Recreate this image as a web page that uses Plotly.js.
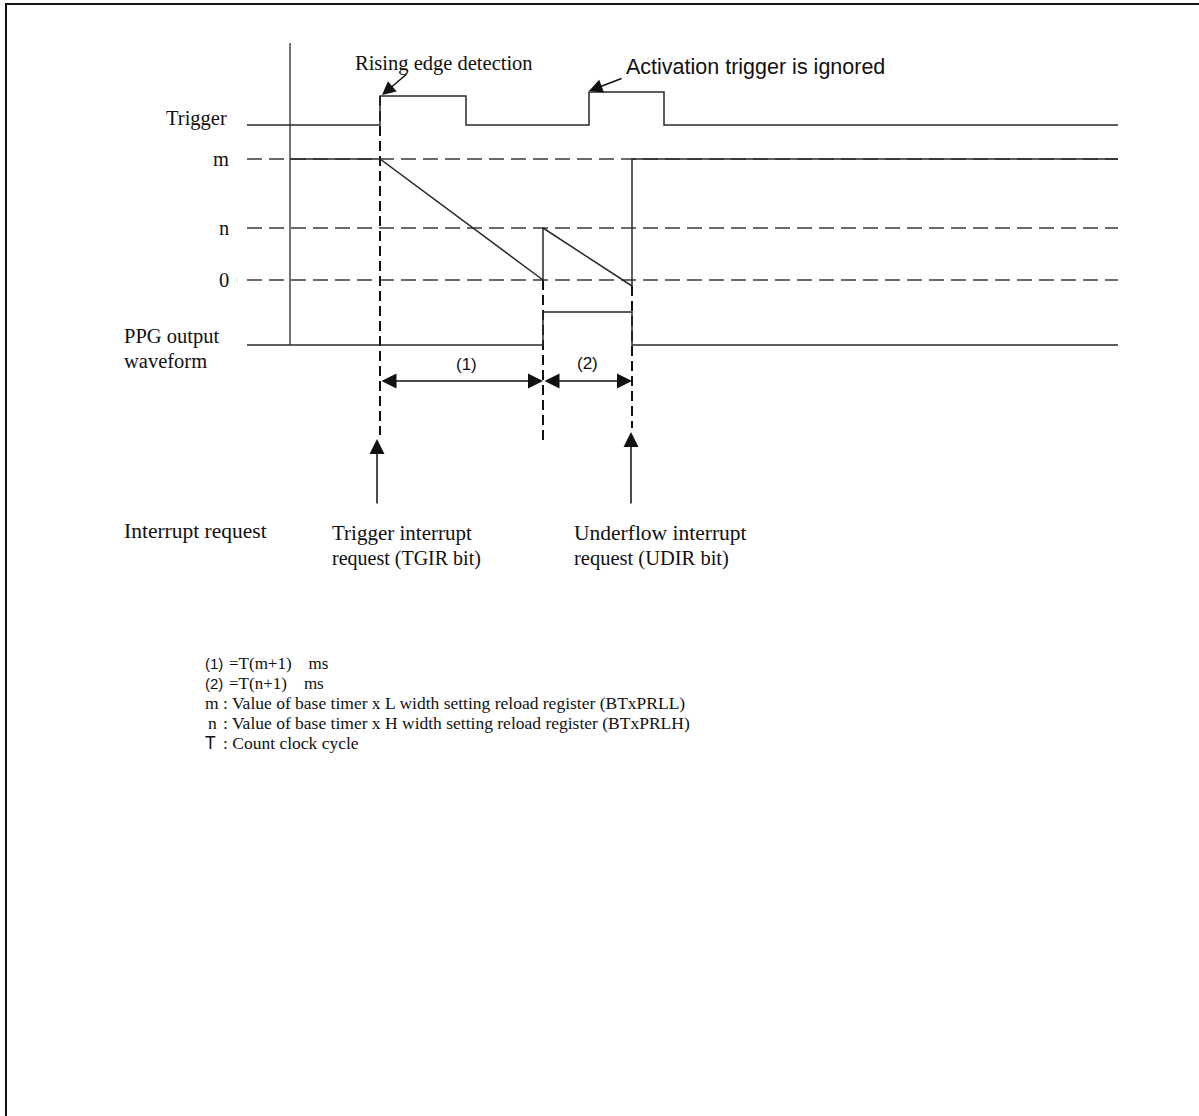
<!DOCTYPE html>
<html>
<head>
<meta charset="utf-8">
<script src="https://cdn.plot.ly/plotly-3.0.1.min.js"></script>
<style>html,body{margin:0;padding:0;background:#fff;}#chart{width:1199px;height:1116px;}</style>
</head>
<body>
<div id="chart"></div>
<script>
// ---- timing events (horizontal position, drawing units) ----
const tStart = 247;      // start of signal lines
const tAxis = 290;       // vertical reference axis
const tTrig = 380;       // rising edge of trigger
const tTrigEnd = 466;    // falling edge of trigger
const tUnder1 = 543;     // first underflow (counter reaches 0)
const tIgn = 589;        // ignored trigger rising edge
const tIgnEnd = 664;     // ignored trigger falling edge
const tUnder2 = 632;     // second underflow
const tEnd = 1118;       // end of signal lines

// ---- signal levels (vertical position, drawing units, down is larger) ----
const trigLow = 125, trigHigh1 = 96, trigHigh2 = 92;
const levelM = 159, levelN = 228, level0 = 280, levelUnder = 286;
const ppgLow = 345, ppgHigh = 312;
const axisTop = 43;

// ---- waveforms ----
const triggerX = [tStart, tTrig, tTrig, tTrigEnd, tTrigEnd, tIgn, tIgn, tIgnEnd, tIgnEnd, tEnd];
const triggerY = [trigLow, trigLow, trigHigh1, trigHigh1, trigLow, trigLow, trigHigh2, trigHigh2, trigLow, trigLow];
const counterX = [tAxis, tTrig, tUnder1, tUnder1, tUnder2, tUnder2, tEnd];
const counterY = [levelM, levelM, level0, levelN, levelUnder, levelM, levelM];
const ppgX = [tStart, tUnder1, tUnder1, tUnder2, tUnder2, tEnd];
const ppgY = [ppgLow, ppgLow, ppgHigh, ppgHigh, ppgLow, ppgLow];

// ---- reference levels (dashed) ----
const refLevels = [levelM, levelN, level0];
const refLabels = ['m', 'n', '0'];

// ---- dashed markers down to interrupt area ----
const markerX = [tTrig, tUnder1, tUnder2];
const markerTop = [trigHigh1, level0, levelUnder];
const markerBottom = [435, 443, 428];

// ---- interrupt arrows ----
const irqX = [377, 631];
const irqTip = [439, 432];
const irqTail = 505;

// ---- legend text ----
const legendKeys = ['(1)', '(2)', 'm', 'n', 'T'];
const legendTexts = ['=T(m+1)\u00a0\u00a0\u00a0\u00a0ms', '=T(n+1)\u00a0\u00a0\u00a0\u00a0ms',
  ': Value of base timer x L width setting reload register (BTxPRLL)',
  ': Value of base timer x H width setting reload register (BTxPRLH)',
  ': Count clock cycle'];
const legendY = [663, 683, 703, 723, 743];

const SERIF = 'Liberation Serif, Times New Roman, serif';
const SANS = 'Liberation Sans, Arial, sans-serif';
const LC = '#2a2a2a';

const traces = [];
refLevels.forEach(function (y) {
  traces.push({x: [tStart, tEnd], y: [y, y], mode: 'lines', line: {color: '#3a3a3a', width: 1.5, dash: '15px,7px'}, hoverinfo: 'skip'});
});
markerX.forEach(function (x, i) {
  traces.push({x: [x, x], y: [markerTop[i], markerBottom[i]], mode: 'lines', line: {color: '#111', width: 2, dash: '10px,5px'}, hoverinfo: 'skip'});
});
traces.push({x: [tAxis, tAxis], y: [axisTop, ppgLow], mode: 'lines', line: {color: LC, width: 1.3}, hoverinfo: 'skip'});
traces.push({x: triggerX, y: triggerY, mode: 'lines', line: {color: LC, width: 1.5}, hoverinfo: 'skip'});
traces.push({x: counterX, y: counterY, mode: 'lines', line: {color: LC, width: 1.5}, hoverinfo: 'skip'});
traces.push({x: ppgX, y: ppgY, mode: 'lines', line: {color: LC, width: 1.5}, hoverinfo: 'skip'});

const ann = [];
function txt(x, y, text, opts) {
  ann.push(Object.assign({x: x, y: y, xref: 'x', yref: 'y', text: text, showarrow: false,
    xanchor: 'left', yanchor: 'middle', font: {family: SERIF, size: 20.5, color: '#111'}}, opts || {}));
}
function arrow(x, y, ax, ay, opts) {
  ann.push(Object.assign({x: x, y: y, ax: ax, ay: ay, xref: 'x', yref: 'y', axref: 'x', ayref: 'y',
    text: '', showarrow: true, arrowhead: 2, arrowsize: 1.5, arrowwidth: 1.5, arrowcolor: '#111'}, opts || {}));
}

// level labels
txt(229, trigLow - 7, 'Trigger', {xanchor: 'right'});
refLevels.forEach(function (y, i) { txt(231, y, refLabels[i], {xanchor: 'right'}); });
txt(122, 336, 'PPG output');
txt(122, 361, 'waveform');

// callouts
txt(444, 63, 'Rising edge detection', {xanchor: 'center'});
arrow(382, trigHigh1 - 1, 408, 73, {arrowsize: 1.8});
txt(624, 67, 'Activation trigger is ignored', {font: {family: SANS, size: 21.5, color: '#111'}});
arrow(589, trigHigh2 - 1, 623, 78, {arrowsize: 1.8});

// interval arrows
const intervalY = 381;
arrow(tUnder1, intervalY, tTrig, intervalY, {arrowside: 'end+start', arrowsize: 2});
arrow(tUnder2, intervalY, tUnder1, intervalY, {arrowside: 'end+start', arrowsize: 2});
txt((tTrig + tUnder1) / 2 + 5, 364, '(1)', {xanchor: 'center', font: {family: SANS, size: 17, color: '#111'}});
txt((tUnder1 + tUnder2) / 2, 363, '(2)', {xanchor: 'center', font: {family: SANS, size: 17, color: '#111'}});

// interrupt arrows
irqX.forEach(function (x, i) { arrow(x, irqTip[i], x, irqTail, {arrowsize: 2}); });
txt(122, 531, 'Interrupt request', {font: {family: SERIF, size: 21.5, color: '#111'}});
txt(330, 533, 'Trigger interrupt', {font: {family: SERIF, size: 21, color: '#111'}});
txt(330, 558, 'request (TGIR bit)', {font: {family: SERIF, size: 20, color: '#111'}});
txt(572, 533, 'Underflow interrupt', {font: {family: SERIF, size: 21.5, color: '#111'}});
txt(572, 558, 'request (UDIR bit)', {font: {family: SERIF, size: 20.5, color: '#111'}});

// legend
legendKeys.forEach(function (k, i) {
  const isFormula = (k === '(1)' || k === '(2)');
  const sans = isFormula || k === 'T';
  txt(k === 'n' ? 206 : 203, legendY[i], k, {font: {family: sans ? SANS : SERIF, size: isFormula ? 15 : 17.5, color: '#111'}});
  txt(isFormula ? 227 : 221, legendY[i], legendTexts[i], {font: {family: SERIF, size: isFormula ? 17 : 17.5, color: '#111'}});
});

const shapes = [
  {type: 'line', xref: 'x', yref: 'y', x0: 6, x1: 6, y0: 4, y1: 1116, line: {color: '#111', width: 2}},
  {type: 'line', xref: 'x', yref: 'y', x0: 5, x1: 1199, y0: 4, y1: 4, line: {color: '#111', width: 2}}
];

const layout = {
  width: 1199, height: 1116,
  margin: {l: 0, r: 0, t: 0, b: 0, pad: 0},
  paper_bgcolor: '#fff', plot_bgcolor: '#fff',
  showlegend: false,
  xaxis: {range: [0, 1199], visible: false, fixedrange: true},
  yaxis: {range: [1116, 0], visible: false, fixedrange: true},
  annotations: ann,
  shapes: shapes
};
Plotly.newPlot('chart', traces, layout, {staticPlot: true, displayModeBar: false});
</script>
</body>
</html>
